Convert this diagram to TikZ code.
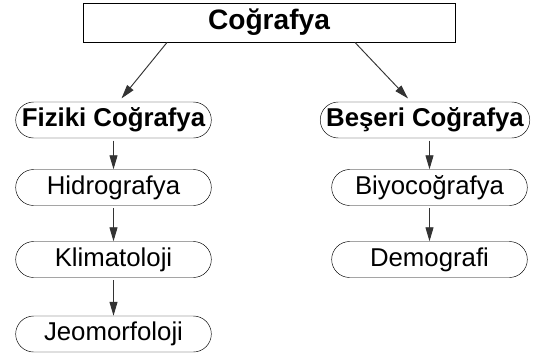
\documentclass[tikz,border=0pt]{standalone}
\usepackage{fontspec}
\setmainfont{Liberation Sans}
\usetikzlibrary{arrows.meta, shapes.misc}

\begin{document}
\begin{tikzpicture}[
        topbox/.style={draw, thick, rectangle, minimum width=11.16cm, minimum height=1.17cm, font=\fontsize{24}{28}\selectfont\bfseries},
        pill/.style={draw, rounded rectangle, minimum width=5.94cm, minimum height=1.08cm, inner xsep=1pt, inner ysep=1pt, font=\fontsize{22}{26}\selectfont},
        link/.style={-{Stealth[length=0.42cm, width=0.24cm, inset=0pt]}, black!80, line width=0.8pt}
    ]
        \useasboundingbox (0,0) rectangle (16.77,-10.62);

        \node[topbox] (cog) at (8.07,-0.675) {Coğrafya};

        \node[pill, font=\fontsize{22}{26}\selectfont\bfseries] (fiziki) at ([xshift=-4.665cm, yshift=-2.925cm]cog.center) {Fiziki Coğrafya};
        \node[pill, font=\fontsize{22}{26}\selectfont\bfseries] (beseri) at ([xshift=9.345cm]fiziki.center) {Beşeri Coğrafya};

        \node[pill] (hidro) at ([yshift=-2.025cm]fiziki.center) {Hidrografya};
        \node[pill] (klima) at ([yshift=-2.16cm]hidro.center) {Klimatoloji};
        \node[pill] (jeomorf) at ([yshift=-2.235cm]klima.center) {Jeomorfoloji};

        \node[pill] (biyo) at ([xshift=0.135cm, yshift=-2.025cm]beseri.center) {Biyocoğrafya};
        \node[pill] (demo) at ([yshift=-2.16cm]biyo.center) {Demografi};

        \draw [link] ([xshift=-3.06cm]cog.south) -- ([xshift=0.24cm, yshift=0.1cm]fiziki.north);
        \draw [link] ([xshift=2.58cm]cog.south) -- ([xshift=-0.51cm, yshift=0.1cm]beseri.north);

        \draw [link] ([yshift=-2pt]fiziki.south) -- (hidro.north);
        \draw [link] ([yshift=-2pt]hidro.south) -- (klima.north);
        \draw [link] ([yshift=-2pt]klima.south) -- (jeomorf.north);

        \draw [link] ([yshift=-2pt]beseri.south -| biyo.north) -- (biyo.north);
        \draw [link] ([yshift=-2pt]biyo.south) -- (demo.north);
    \end{tikzpicture}
\end{document}
